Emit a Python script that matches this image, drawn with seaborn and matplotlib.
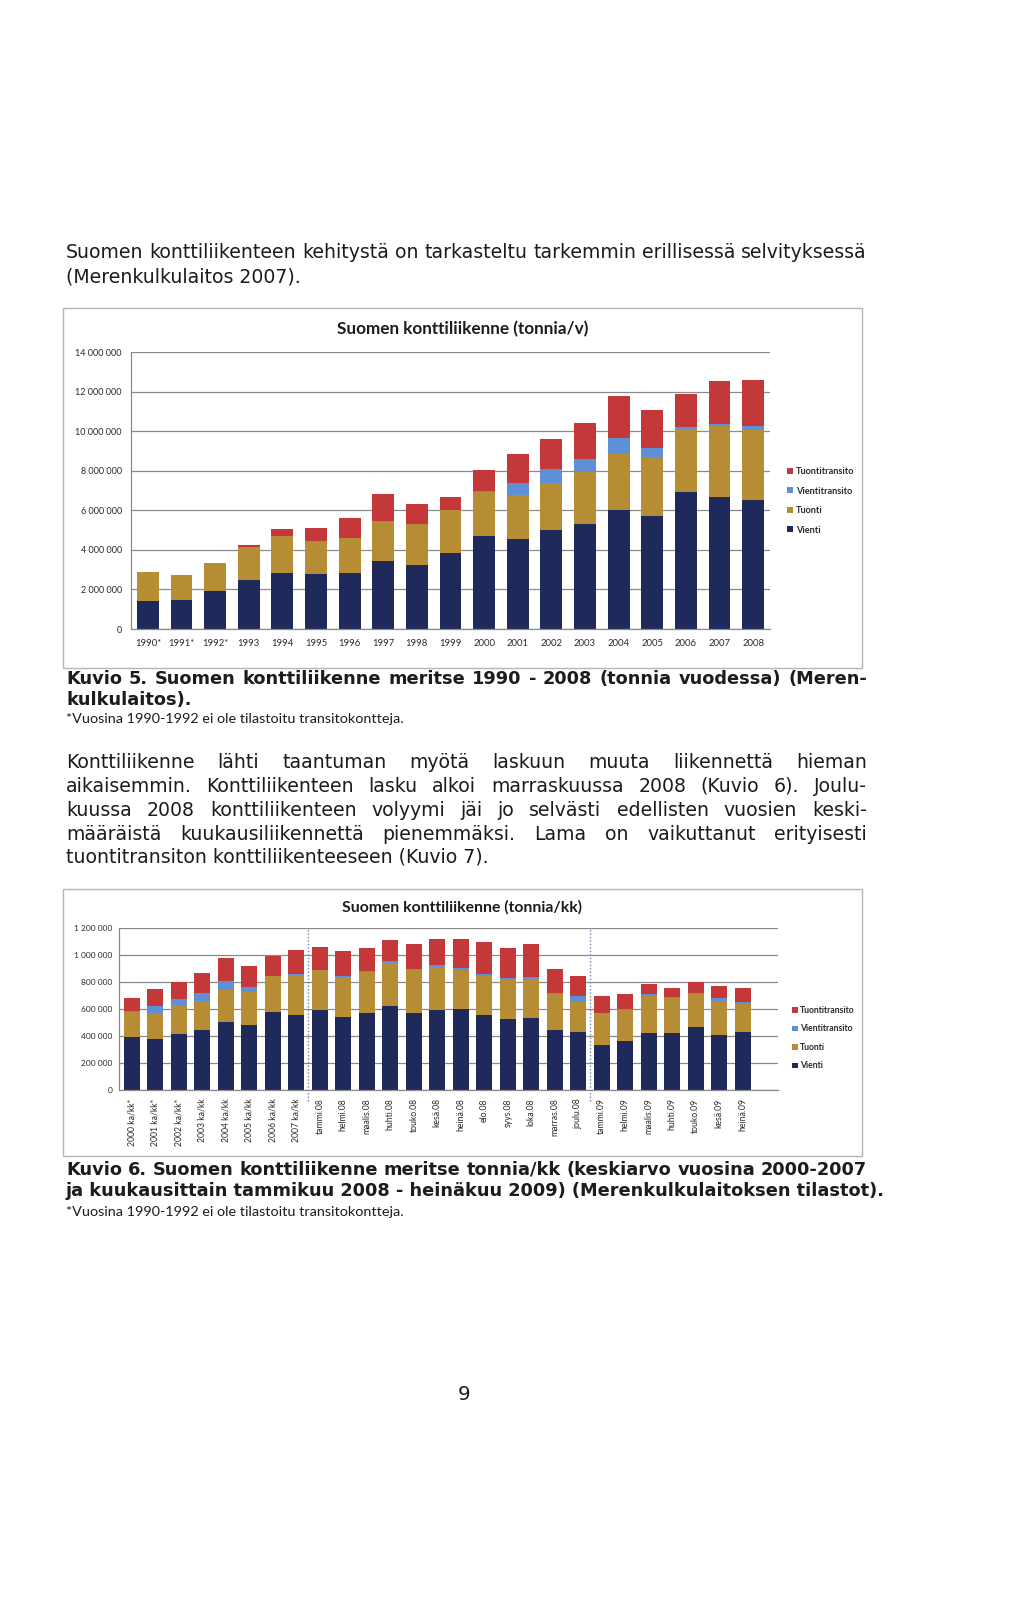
import matplotlib
matplotlib.use("Agg")
import matplotlib.pyplot as plt
from matplotlib.patches import Rectangle, Patch
import seaborn as sns
import numpy as np

# ---- data: yearly (tonnes) ----
years = ["1990*", "1991*", "1992*", "1993", "1994", "1995", "1996", "1997", "1998", "1999",
         "2000", "2001", "2002", "2003", "2004", "2005", "2006", "2007", "2008"]
vienti_v = [1430000, 1470000, 1940000, 2500000, 2850000, 2780000, 2830000, 3420000, 3220000, 3860000,
            4710000, 4550000, 4990000, 5330000, 6000000, 5700000, 6930000, 6690000, 6540000]
tuonti_v = [1440000, 1260000, 1380000, 1630000, 1870000, 1670000, 1790000, 2060000, 2090000, 2140000,
            2200000, 2210000, 2380000, 2600000, 2820000, 2980000, 3200000, 3560000, 3510000]
vientitransito_v = [0, 0, 0, 0, 0, 0, 0, 0, 0, 0,
                    50000, 640000, 720000, 640000, 810000, 460000, 90000, 120000, 190000]
tuontitransito_v = [0, 0, 0, 100000, 340000, 660000, 1000000, 1320000, 1030000, 660000,
                    1070000, 1450000, 1520000, 1830000, 2140000, 1920000, 1670000, 2140000, 2340000]

# ---- data: monthly (tonnes) ----
months = ["2000 ka/kk*", "2001 ka/kk*", "2002 ka/kk*", "2003 ka/kk", "2004 ka/kk", "2005 ka/kk",
          "2006 ka/kk", "2007 ka/kk", "tammi.08", "helmi.08", "maalis.08", "huhti.08", "touko.08",
          "kesä.08", "heinä.08", "elo.08", "syys.08", "loka.08", "marras.08", "joulu.08",
          "tammi.09", "helmi.09", "maalis.09", "huhti.09", "touko.09", "kesä.09", "heinä.09"]
vienti_m = [394000, 379000, 414000, 448000, 505000, 478000, 579000, 559000, 594000, 539000, 571000,
            621000, 574000, 596000, 603000, 552000, 527000, 534000, 448000, 426000, 335000, 360000,
            424000, 424000, 466000, 411000, 429000]
tuonti_m = [185000, 192000, 209000, 212000, 234000, 246000, 263000, 291000, 293000, 298000, 303000,
            320000, 313000, 315000, 284000, 293000, 291000, 291000, 261000, 224000, 232000, 236000,
            276000, 261000, 243000, 247000, 211000]
vientitransito_m = [4000, 52000, 54000, 59000, 66000, 40000, 5000, 7000, 5000, 8000, 5000, 15000,
                    10000, 15000, 19000, 12000, 15000, 12000, 13000, 45000, 4000, 5000, 9000, 7000,
                    10000, 24000, 15000]
tuontitransito_m = [98000, 123000, 126000, 148000, 175000, 155000, 146000, 182000, 167000, 182000,
                    173000, 157000, 184000, 195000, 215000, 239000, 219000, 242000, 175000, 150000,
                    129000, 111000, 74000, 67000, 81000, 86000, 99000]

series_names = ["Vienti", "Tuonti", "Vientitransito", "Tuontitransito"]
colors = ["#1f2a5a", "#b68d35", "#5f8fd6", "#c4383a"]

W, H = 1024, 1597
sns.set_style("white")
plt.rcParams["font.family"] = ["DejaVu Sans"]
TXT = "#1c1c1c"
CF = "Lato"

fig = plt.figure(figsize=(W / 100, H / 100), dpi=100)
fig.patch.set_facecolor("white")
renderer = fig.canvas.get_renderer()


def fy(y):
    return 1 - y / H


def width_of(s, **kw):
    t = fig.text(0, 0, s, **kw)
    w = t.get_window_extent(renderer).width
    t.remove()
    return w


def fit_size(s, target, **kw):
    return 10 * target / width_of(s, fontsize=10, **kw)


def justify(line, x0, x1, y, **kw):
    words = line.split()
    ws = [width_of(w, **kw) for w in words]
    gap = (x1 - x0 - sum(ws)) / (len(words) - 1)
    x = x0
    for w, wd in zip(words, ws):
        fig.text(x / W, fy(y), w, va="center", ha="left", color=TXT, **kw)
        x += wd + gap


def left(line, x0, y, **kw):
    fig.text(x0 / W, fy(y), line, va="center", ha="left", color=TXT, **kw)


def stacked(ax, labels, parts, width):
    cums = np.cumsum(np.array(parts, dtype=float), axis=0)
    for c, col in reversed(list(zip(cums, colors))):
        sns.barplot(x=labels, y=c, order=labels, color=col, width=width, saturation=1,
                    errorbar=None, linewidth=0, ax=ax)


def style_axis(ax, ymax, step, ysize, xsize, ypad, xpad, rot):
    ax.set_ylim(0, ymax)
    ticks = np.arange(0, ymax + 1, step)
    ax.set_yticks(ticks)
    ax.set_yticklabels([f"{int(t):,}".replace(",", " ") for t in ticks],
                       fontfamily=CF, fontsize=ysize, color="#2a2a2a")
    ax.tick_params(axis="y", length=0, pad=ypad)
    ax.tick_params(axis="x", length=0, pad=xpad, labelsize=xsize, labelrotation=rot)
    for lab in ax.get_xticklabels():
        lab.set_fontfamily(CF)
        lab.set_color("#2a2a2a")
    ax.yaxis.grid(True, color="#8a8a8a", lw=0.9)
    ax.set_axisbelow(True)
    for s in ["top", "right"]:
        ax.spines[s].set_visible(False)
    for s in ["left", "bottom"]:
        ax.spines[s].set_color("#8a8a8a")
        ax.spines[s].set_linewidth(0.9)
    ax.set_xlabel("")
    ax.set_ylabel("")
    ax.set_facecolor("white")


def legend(ax, x, y, size, spacing):
    handles = [Patch(facecolor=c, edgecolor="none", label=n)
               for n, c in reversed(list(zip(series_names, colors)))]
    leg = fig.legend(handles=handles, loc="upper left", bbox_to_anchor=(x / W, fy(y)),
                     frameon=False, handlelength=0.65, handleheight=0.65,
                     handletextpad=0.3, labelspacing=spacing, borderaxespad=0, borderpad=0,
                     prop={"family": CF, "size": size, "weight": "bold"})
    for t in leg.get_texts():
        t.set_color("#2a2a2a")


# ---- chart boxes ----
for (x0, y0, x1, y1) in [(63, 308, 862, 668), (63, 889, 862, 1156)]:
    fig.patches.append(Rectangle((x0 / W, fy(y1)), (x1 - x0) / W, (y1 - y0) / H,
                                 transform=fig.transFigure, fill=False,
                                 edgecolor="#b5b5b5", lw=1))

# ---- chart 1: yearly ----
ax1 = fig.add_axes([131 / W, fy(629), (770 - 131) / W, (629 - 352) / H])
stacked(ax1, years, [vienti_v, tuonti_v, vientitransito_v, tuontitransito_v], 0.65)
ax1.set_xlim(-0.5, len(years) - 0.5)
style_axis(ax1, 14000000, 2000000, 6.5, 6.8, 6.5, 7, 0)
fig.text(463 / W, fy(329), "Suomen konttiliikenne (tonnia/v)", ha="center", va="center",
         fontfamily=CF, fontweight="bold", fontsize=12.3, color=TXT)
legend(ax1, 787, 467, 6.6, 1.15)

# ---- chart 2: monthly ----
ax2 = fig.add_axes([119 / W, fy(1090), (778 - 119) / W, (1090 - 928) / H])
stacked(ax2, months, [vienti_m, tuonti_m, vientitransito_m, tuontitransito_m], 0.68)
ax2.set_xlim(-0.55, 27.5)
style_axis(ax2, 1200000, 200000, 6.0, 6.2, 4.5, 6, 90)
for xv in [7.5, 19.5]:
    ax2.axvline(xv, ymin=-0.07, ymax=1.0, color="#7383a6", lw=1, ls=(0, (1, 1.5)), clip_on=False)
fig.text(462 / W, fy(907), "Suomen konttiliikenne (tonnia/kk)", ha="center", va="center",
         fontfamily=CF, fontweight="bold", fontsize=11.3, color=TXT)
legend(ax2, 792, 1006, 6.2, 1.1)

# ---- page text ----
body = {"fontfamily": "DejaVu Sans"}
bsize = fit_size("Suomen konttiliikenteen kehitystä on tarkasteltu tarkemmin erillisessä selvityksessä",
                 800, **body)
bold = {"fontfamily": "DejaVu Sans", "fontweight": "bold"}
csize = fit_size("ja kuukausittain tammikuu 2008 - heinäkuu 2009) (Merenkulkulaitoksen tilastot).",
                 819, **bold)
nsize = fit_size("*Vuosina 1990-1992 ei ole tilastoitu transitokontteja.", 337, fontfamily=CF)

X0, X1 = 66, 867
justify("Suomen konttiliikenteen kehitystä on tarkasteltu tarkemmin erillisessä selvityksessä",
        X0, X1, 252, fontsize=bsize, **body)
left("(Merenkulkulaitos 2007).", X0, 277, fontsize=bsize, **body)

justify("Kuvio 5. Suomen konttiliikenne meritse 1990 - 2008 (tonnia vuodessa) (Meren-",
        X0, X1, 679, fontsize=csize, **bold)
left("kulkulaitos).", X0, 700, fontsize=csize, **bold)
left("*Vuosina 1990-1992 ei ole tilastoitu transitokontteja.", X0, 719, fontsize=nsize, fontfamily=CF)

para = ["Konttiliikenne lähti taantuman myötä laskuun muuta liikennettä hieman",
        "aikaisemmin. Konttiliikenteen lasku alkoi marraskuussa 2008 (Kuvio 6). Joulu-",
        "kuussa 2008 konttiliikenteen volyymi jäi jo selvästi edellisten vuosien keski-",
        "määräistä kuukausiliikennettä pienemmäksi. Lama on vaikuttanut erityisesti"]
for i, line in enumerate(para):
    justify(line, X0, X1, 762 + i * 24.2, fontsize=bsize, **body)
left("tuontitransiton konttiliikenteeseen (Kuvio 7).", X0, 857, fontsize=bsize, **body)

justify("Kuvio 6. Suomen konttiliikenne meritse tonnia/kk (keskiarvo vuosina 2000-2007",
        X0, X1, 1170, fontsize=csize, **bold)
left("ja kuukausittain tammikuu 2008 - heinäkuu 2009) (Merenkulkulaitoksen tilastot).",
     X0, 1191, fontsize=csize, **bold)
left("*Vuosina 1990-1992 ei ole tilastoitu transitokontteja.", X0, 1212, fontsize=nsize, fontfamily=CF)

fig.text(464 / W, fy(1395), "9", ha="center", va="center", fontsize=bsize * 1.05, color=TXT, **body)

fig.savefig("out.png", dpi=100)
